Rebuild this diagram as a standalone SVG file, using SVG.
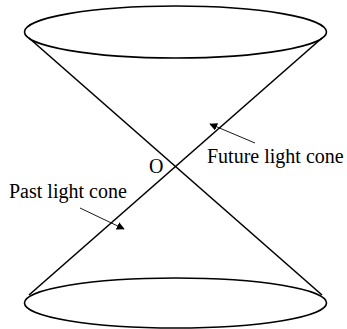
<svg xmlns="http://www.w3.org/2000/svg" width="347" height="329" viewBox="0 0 347 329">
<style>
.cone{fill:none;stroke:#000;stroke-width:1.6}
.lbl{stroke:#000;stroke-width:0.9;fill:none}
text{font-family:"Liberation Serif","Times New Roman",serif;font-size:20px;fill:#000}
</style>
<defs>
<marker id="ah" viewBox="0 0 10 10" refX="9" refY="5" markerWidth="8" markerHeight="8" markerUnits="userSpaceOnUse" orient="auto">
<path d="M0,0 L10,5 L0,10 z" fill="#000"/>
</marker>
</defs>
<g id="top-ellipse"><ellipse class="cone" cx="175.5" cy="32" rx="151" ry="26"/></g>
<g id="bottom-ellipse"><ellipse class="cone" cx="175.5" cy="303" rx="151" ry="25"/></g>
<g id="connectors">
<line class="cone" x1="29" y1="38" x2="322" y2="295"/>
<line class="cone" x1="322" y1="38" x2="29" y2="295"/>
<line class="lbl" x1="255" y1="143" x2="210" y2="124" marker-end="url(#ah)"/>
<line class="lbl" x1="80" y1="208" x2="124" y2="229" marker-end="url(#ah)"/>
</g>
<g id="origin"><text x="149" y="173">O</text></g>
<g id="future-label"><text x="207" y="163">Future light cone</text></g>
<g id="past-label"><text x="9" y="198">Past light cone</text></g>
</svg>
